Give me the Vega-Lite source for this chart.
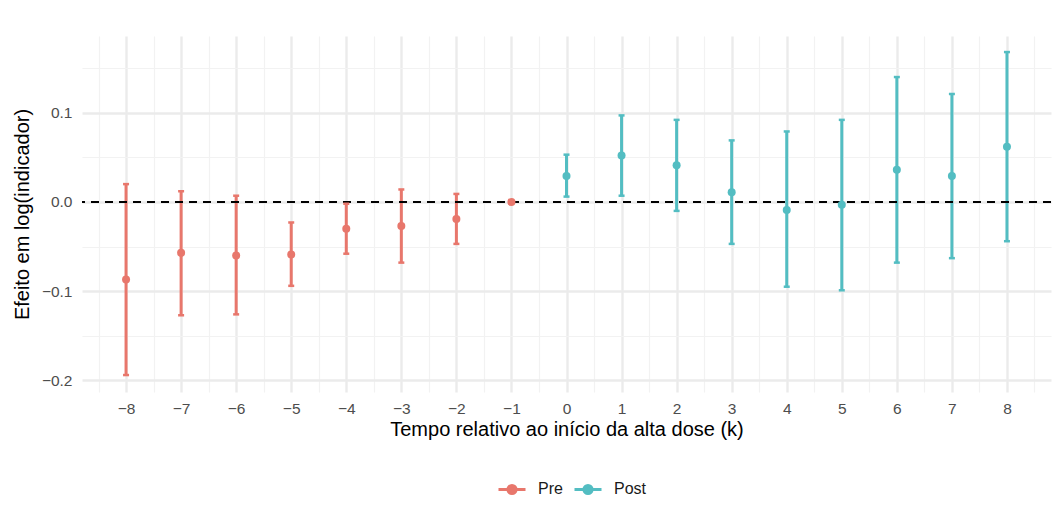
{
  "$schema": "https://vega.github.io/schema/vega-lite/v6.json",
  "width": 969,
  "height": 356,
  "autosize": {"type": "none"},
  "padding": {"left": 82, "top": 36, "right": 1, "bottom": 121},
  "background": "white",
  "config": {
    "view": {"stroke": null},
    "font": "Liberation Sans",
    "axis": {
      "domain": false,
      "ticks": false,
      "labelFont": "Liberation Sans",
      "labelFontSize": 15.5,
      "labelColor": "#4D4D4D",
      "titleFont": "Liberation Sans",
      "titleFontSize": 20,
      "titleFontWeight": "normal",
      "titleColor": "#000000"
    }
  },
  "data": {
    "values": [
      {"k": -8, "est": -0.087, "lo": -0.194, "hi": 0.020, "periodo": "Pre"},
      {"k": -7, "est": -0.057, "lo": -0.127, "hi": 0.012, "periodo": "Pre"},
      {"k": -6, "est": -0.060, "lo": -0.126, "hi": 0.007, "periodo": "Pre"},
      {"k": -5, "est": -0.059, "lo": -0.094, "hi": -0.023, "periodo": "Pre"},
      {"k": -4, "est": -0.030, "lo": -0.058, "hi": -0.002, "periodo": "Pre"},
      {"k": -3, "est": -0.027, "lo": -0.068, "hi": 0.014, "periodo": "Pre"},
      {"k": -2, "est": -0.019, "lo": -0.047, "hi": 0.009, "periodo": "Pre"},
      {"k": -1, "est": 0.0, "lo": 0.0, "hi": 0.0, "periodo": "Pre"},
      {"k": 0, "est": 0.029, "lo": 0.006, "hi": 0.053, "periodo": "Post"},
      {"k": 1, "est": 0.052, "lo": 0.007, "hi": 0.097, "periodo": "Post"},
      {"k": 2, "est": 0.041, "lo": -0.010, "hi": 0.092, "periodo": "Post"},
      {"k": 3, "est": 0.011, "lo": -0.047, "hi": 0.069, "periodo": "Post"},
      {"k": 4, "est": -0.009, "lo": -0.095, "hi": 0.079, "periodo": "Post"},
      {"k": 5, "est": -0.003, "lo": -0.099, "hi": 0.092, "periodo": "Post"},
      {"k": 6, "est": 0.036, "lo": -0.068, "hi": 0.140, "periodo": "Post"},
      {"k": 7, "est": 0.029, "lo": -0.063, "hi": 0.121, "periodo": "Post"},
      {"k": 8, "est": 0.062, "lo": -0.044, "hi": 0.168, "periodo": "Post"}
    ]
  },
  "resolve": {"axis": {"x": "independent", "y": "independent"}},
  "layer": [
    {
      "description": "confidence interval bars; this layer also carries the minor grid and the legend",
      "mark": {"type": "rule", "strokeWidth": 3},
      "encoding": {
        "x": {
          "field": "k",
          "type": "quantitative",
          "scale": {"domain": [-8.8, 8.8], "nice": false, "zero": false},
          "axis": {
            "orient": "bottom",
            "values": [-8.5, -7.5, -6.5, -5.5, -4.5, -3.5, -2.5, -1.5, -0.5, 0.5, 1.5, 2.5, 3.5, 4.5, 5.5, 6.5, 7.5, 8.5],
            "labels": false,
            "title": null,
            "grid": true,
            "gridColor": "#F2F2F2",
            "gridWidth": 1.2
          }
        },
        "y": {
          "field": "lo",
          "type": "quantitative",
          "scale": {"domain": [-0.213, 0.186], "nice": false, "zero": false},
          "axis": {
            "orient": "left",
            "values": [-0.15, -0.05, 0.05, 0.15],
            "labels": false,
            "title": null,
            "grid": true,
            "gridColor": "#F2F2F2",
            "gridWidth": 1.2
          }
        },
        "y2": {"field": "hi"},
        "color": {
          "field": "periodo",
          "type": "nominal",
          "scale": {"domain": ["Pre", "Post"], "range": ["#E8776C", "#53BDC2"]},
          "legend": {
            "title": null,
            "orient": "none",
            "direction": "horizontal",
            "legendX": 415,
            "legendY": 438,
            "symbolType": "M-1,0H1M0.3,0A0.3,0.3,0,1,1,-0.3,0A0.3,0.3,0,1,1,0.3,0Z",
            "symbolSize": 729,
            "symbolStrokeWidth": 3,
            "labelFont": "Liberation Sans",
            "labelFontSize": 16,
            "labelColor": "#1A1A1A",
            "labelOffset": 11,
            "columnPadding": 5,
            "encode": {
              "symbols": {
                "update": {
                  "fill": {"scale": "color", "field": "value"},
                  "stroke": {"scale": "color", "field": "value"},
                  "opacity": {"value": 1}
                }
              }
            }
          }
        }
      }
    },
    {
      "description": "reference line at zero",
      "mark": {"type": "rule", "color": "#000000", "strokeWidth": 2, "strokeDash": [8, 6]},
      "encoding": {"y": {"datum": 0, "type": "quantitative", "axis": null}}
    },
    {
      "description": "upper caps",
      "mark": {"type": "tick", "orient": "horizontal", "size": 6, "thickness": 2.5, "opacity": 1},
      "encoding": {
        "x": {"field": "k", "type": "quantitative", "axis": null},
        "y": {"field": "hi", "type": "quantitative", "axis": null},
        "color": {"field": "periodo", "type": "nominal"}
      }
    },
    {
      "description": "lower caps",
      "mark": {"type": "tick", "orient": "horizontal", "size": 6, "thickness": 2.5, "opacity": 1},
      "encoding": {
        "x": {"field": "k", "type": "quantitative", "axis": null},
        "y": {"field": "lo", "type": "quantitative", "axis": null},
        "color": {"field": "periodo", "type": "nominal"}
      }
    },
    {
      "description": "point estimates with the labelled axes",
      "mark": {"type": "point", "filled": true, "shape": "circle", "size": 64, "opacity": 1},
      "encoding": {
        "x": {
          "field": "k",
          "type": "quantitative",
          "axis": {
            "orient": "bottom",
            "values": [-8, -7, -6, -5, -4, -3, -2, -1, 0, 1, 2, 3, 4, 5, 6, 7, 8],
            "format": "d",
            "grid": true,
            "gridColor": "#EBEBEB",
            "gridWidth": 2.4,
            "labelPadding": 9,
            "titlePadding": 3,
            "title": "Tempo relativo ao início da alta dose (k)"
          }
        },
        "y": {
          "field": "est",
          "type": "quantitative",
          "axis": {
            "orient": "left",
            "values": [-0.2, -0.1, 0, 0.1],
            "format": ".1f",
            "grid": true,
            "gridColor": "#EBEBEB",
            "gridWidth": 2.4,
            "labelPadding": 10,
            "titlePadding": 9,
            "title": "Efeito em log(indicador)"
          }
        },
        "color": {"field": "periodo", "type": "nominal"}
      }
    }
  ]
}
